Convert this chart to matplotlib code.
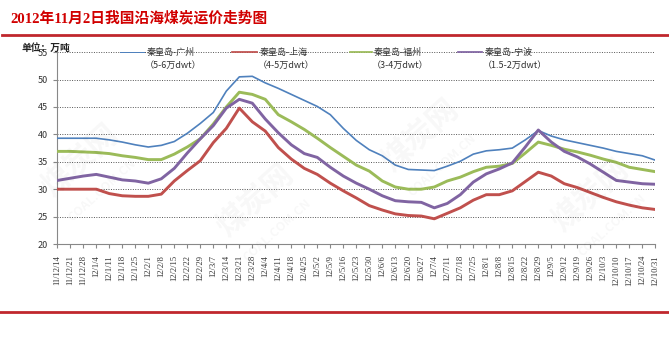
import numpy as np
import matplotlib.pyplot as plt
from matplotlib.lines import Line2D

plt.rcParams['font.family'] = ['Noto Sans CJK SC', 'DejaVu Sans']

# weekly dates on the category axis
dates = ['11/12/14', '11/12/21', '11/12/28', '12/1/4', '12/1/11', '12/1/18', '12/1/25',
         '12/2/1', '12/2/8', '12/2/15', '12/2/22', '12/2/29', '12/3/7', '12/3/14',
         '12/3/21', '12/3/28', '12/4/4', '12/4/11', '12/4/18', '12/4/25', '12/5/2',
         '12/5/9', '12/5/16', '12/5/23', '12/5/30', '12/6/6', '12/6/13', '12/6/20',
         '12/6/27', '12/7/4', '12/7/11', '12/7/18', '12/7/25', '12/8/1', '12/8/8',
         '12/8/15', '12/8/22', '12/8/29', '12/9/5', '12/9/12', '12/9/19', '12/9/26',
         '12/10/3', '12/10/10', '12/10/17', '12/10/24', '12/10/31']

guangzhou = [39.3, 39.3, 39.3, 39.3, 39.0, 38.6, 38.1, 37.7, 38.0, 38.7, 40.2, 42.0,
             44.0, 47.9, 50.5, 50.6, 49.4, 48.4, 47.3, 46.2, 45.1, 43.6, 41.1, 38.9,
             37.2, 36.1, 34.4, 33.6, 33.5, 33.4, 34.2, 35.1, 36.4, 37.0, 37.2, 37.5,
             39.0, 40.7, 39.7, 39.0, 38.5, 38.0, 37.5, 36.9, 36.5, 36.1, 35.3]
shanghai = [30.0, 30.0, 30.0, 30.0, 29.2, 28.8, 28.7, 28.7, 29.1, 31.5, 33.4, 35.2,
            38.5, 41.1, 44.8, 42.3, 40.6, 37.6, 35.5, 33.8, 32.7, 31.1, 29.7, 28.4,
            27.0, 26.2, 25.5, 25.2, 25.1, 24.6, 25.6, 26.6, 28.0, 29.0, 29.0, 29.7,
            31.4, 33.1, 32.4, 31.0, 30.3, 29.4, 28.5, 27.7, 27.1, 26.6, 26.3]
fuzhou = [36.9, 36.9, 36.8, 36.7, 36.5, 36.1, 35.8, 35.4, 35.4, 36.4, 37.7, 39.2,
          41.9, 45.0, 47.7, 47.3, 46.4, 43.6, 42.3, 40.9, 39.3, 37.6, 36.0, 34.4,
          33.3, 31.5, 30.4, 30.0, 30.0, 30.4, 31.5, 32.2, 33.2, 34.0, 34.2, 34.7,
          36.6, 38.6, 38.0, 37.3, 36.8, 36.2, 35.5, 34.9, 34.0, 33.6, 33.2]
ningbo = [31.6, 32.0, 32.4, 32.7, 32.2, 31.7, 31.5, 31.1, 31.9, 33.8, 36.6, 39.2,
          41.6, 44.8, 46.4, 45.7, 42.8, 40.3, 38.1, 36.5, 35.8, 34.0, 32.4, 31.1,
          30.0, 28.8, 27.9, 27.7, 27.6, 26.6, 27.4, 29.0, 31.3, 32.8, 33.7, 34.8,
          37.7, 40.8, 38.6, 36.9, 35.9, 34.6, 33.1, 31.6, 31.3, 31.0, 30.9]

names = ['秦皇岛-广州', '秦皇岛-上海', '秦皇岛-福州', '秦皇岛-宁波']
sizes = ['（5-6万dwt）', '（4-5万dwt）', '（3-4万dwt）', '（1.5-2万dwt）']
series = [guangzhou, shanghai, fuzhou, ningbo]
colors = ['#4F81BD', '#C0504D', '#9BBB59', '#8064A2']
widths = [1.2, 2.1, 2.1, 2.1]

W, H = 669, 340
fig = plt.figure(figsize=(W / 100, H / 100), dpi=100)

# faint watermark
for wx, wy in [(80, 160), (255, 200), (420, 135), (590, 195)]:
    fig.text(wx / W, 1 - wy / H, '煤炭网', fontsize=22, fontweight='bold', rotation=42,
             color='#000000', alpha=0.03, ha='center', va='center', zorder=0)
    fig.text((wx + 22) / W, 1 - (wy + 30) / H, 'COAL.COM.CN', fontsize=9, fontweight='bold',
             rotation=42, color='#000000', alpha=0.03, ha='center', va='center', zorder=0)

ax = fig.add_axes([57.3 / W, 1 - 244 / H, (655.3 - 57.3) / W, (244 - 52.2) / H])
ax.patch.set_alpha(0)

x = np.arange(len(dates))
for vals, c, lw in zip(series, colors, widths):
    ax.plot(x, vals, color=c, linewidth=lw, solid_joinstyle='round', zorder=3)

ax.set_xlim(0, len(dates) - 1)
ax.set_ylim(20, 55)
ax.set_yticks(range(20, 56, 5))
ax.set_xticks(x)
ax.set_xticklabels(dates, rotation=90, fontsize=6.2, family='Liberation Serif', color='#333333')
for lab in ax.get_yticklabels():
    lab.set_fontsize(6.5)
    lab.set_color('#333333')
ax.tick_params(axis='x', length=3, pad=5, color='#888888')
ax.tick_params(axis='y', length=3, pad=4, color='#888888')

ax.spines['top'].set_visible(False)
ax.spines['right'].set_visible(False)
ax.spines['left'].set_color('#888888')
ax.spines['bottom'].set_color('#888888')
ax.grid(axis='y', linestyle=(0, (1, 1.5)), color='#555555', linewidth=0.7, zorder=1)
ax.set_axisbelow(True)

# legend row drawn on top of the plot area
legend_pos = [(120, 144, 147), (232, 257, 260), (350, 372, 374), (458, 482, 485)]
for (x0, x1, xt), name, size, c, lw in zip(legend_pos, names, sizes, colors, widths):
    fig.add_artist(Line2D([x0 / W, x1 / W], [1 - 52 / H] * 2, color=c, linewidth=lw * 0.6))
    fig.text(xt / W, 1 - 52 / H, name, fontsize=6.5, color='#333333', va='center', ha='left')
    fig.text((xt - 2) / W, 1 - 65 / H, size, fontsize=6.5, color='#333333', va='center', ha='left')

fig.text(21 / W, 1 - 48 / H, '单位：万吨', fontsize=7, fontweight='bold', color='#222222',
         va='center', ha='left')

fig.text(10 / W, 1 - 18 / H, '2012年11月2日我国沿海煤炭运价走势图', fontsize=10.6,
         fontweight='bold', color='#D10000', va='center', ha='left',
         family=['Liberation Serif', 'Noto Sans CJK SC'])

fig.add_artist(Line2D([2 / W, 1], [1 - 35 / H] * 2, color='#C0272D', linewidth=2.0))
fig.add_artist(Line2D([0, 1], [1 - 311.5 / H] * 2, color='#C0272D', linewidth=2.0))

fig.savefig('out.png', dpi=100)
